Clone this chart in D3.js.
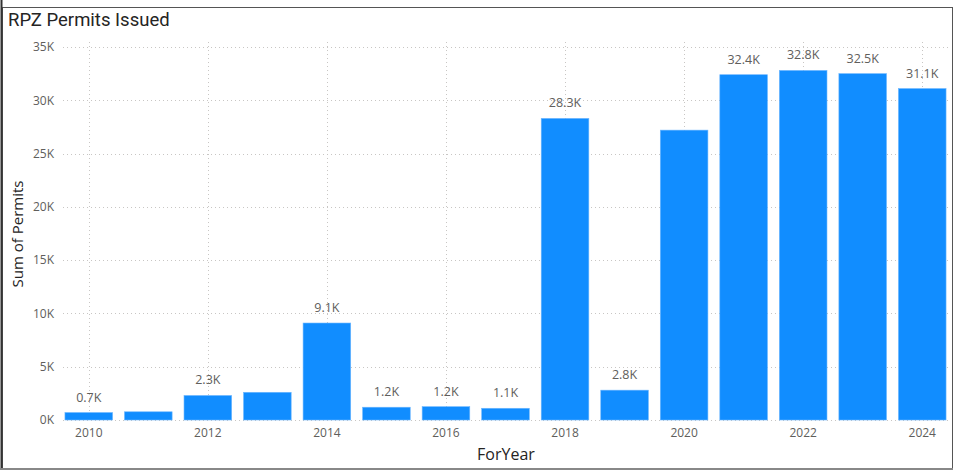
<!DOCTYPE html>
<html>
<head>
<meta charset="utf-8">
<script src="https://cdn.jsdelivr.net/npm/d3@7"></script>
<style>
  html, body { margin: 0; padding: 0; background: #fff; }
  svg { display: block; }
</style>
</head>
<body>
<svg id="chart" width="957" height="472"></svg>
<script>
const years = [2010, 2011, 2012, 2013, 2014, 2015, 2016, 2017, 2018, 2019, 2020, 2021, 2022, 2023, 2024];
const permits = [700, 770, 2300, 2600, 9100, 1200, 1250, 1100, 28300, 2800, 27200, 32400, 32800, 32500, 31100];
const dataLabels = ["0.7K", null, "2.3K", null, "9.1K", "1.2K", "1.2K", "1.1K", "28.3K", "2.8K", null, "32.4K", "32.8K", "32.5K", "31.1K"];
const yTicks = [0, 5000, 10000, 15000, 20000, 25000, 30000, 35000];
const xTickYears = [2010, 2012, 2014, 2016, 2018, 2020, 2022, 2024];

const svg = d3.select("#chart");
const font = "'Open Sans', 'Noto Sans', sans-serif";

// frame
svg.append("rect").attr("x", 2.5).attr("y", 7.5).attr("width", 950).attr("height", 461)
  .attr("fill", "none").attr("stroke", "#555").attr("stroke-width", 1);
svg.append("line").attr("x1", 1.5).attr("x2", 1.5).attr("y1", 0).attr("y2", 470)
  .attr("stroke", "#333").attr("stroke-width", 2);
svg.append("line").attr("x1", 0).attr("x2", 953).attr("y1", 469).attr("y2", 469)
  .attr("stroke", "#888").attr("stroke-width", 2);

const x = d3.scaleBand().domain(years).range([59, 952]).paddingInner(0.2).paddingOuter(0.1);
const y = d3.scaleLinear().domain([0, 35000]).range([420, 47]);

// horizontal gridlines
svg.append("g").selectAll("line").data(yTicks).join("line")
  .attr("x1", 63).attr("x2", 951)
  .attr("y1", d => Math.round(y(d)) + 0.5).attr("y2", d => Math.round(y(d)) + 0.5)
  .attr("stroke", "#c8c6c4").attr("stroke-width", 1).attr("stroke-dasharray", "1,3");

// vertical gridlines
svg.append("g").selectAll("line").data(xTickYears).join("line")
  .attr("x1", d => Math.round(x(d) + x.bandwidth() / 2) + 0.5)
  .attr("x2", d => Math.round(x(d) + x.bandwidth() / 2) + 0.5)
  .attr("y1", 42).attr("y2", 420)
  .attr("stroke", "#c8c6c4").attr("stroke-width", 1).attr("stroke-dasharray", "1,3");

// y axis
const yAxis = d3.axisLeft(y).tickValues(yTicks).tickSize(0).tickPadding(0)
  .tickFormat(d => (d / 1000) + "K");
const gy = svg.append("g").attr("transform", "translate(54,0)").call(yAxis);
gy.select(".domain").remove();
gy.selectAll("text").attr("fill", "#605e5c").attr("font-family", font).attr("font-size", 12);

// x axis
const xAxis = d3.axisBottom(x).tickValues(xTickYears).tickSize(0).tickPadding(0);
const gx = svg.append("g").attr("transform", "translate(0,428)").call(xAxis);
gx.select(".domain").remove();
gx.selectAll("text").attr("fill", "#605e5c").attr("font-family", font).attr("font-size", 12);

// bars
svg.append("g").selectAll("rect").data(years).join("rect")
  .attr("x", (d, i) => x(d))
  .attr("y", (d, i) => y(permits[i]))
  .attr("width", x.bandwidth())
  .attr("height", (d, i) => y(0) - y(permits[i]))
  .attr("fill", "#118dff")
  .attr("stroke", "#6cb6ff").attr("stroke-width", 0.6);

// data labels
svg.append("g").selectAll("text").data(years.map((d, i) => ({ year: d, v: permits[i], label: dataLabels[i] })).filter(d => d.label))
  .join("text")
  .attr("x", d => x(d.year) + x.bandwidth() / 2)
  .attr("y", d => y(d.v) - 11)
  .attr("text-anchor", "middle")
  .attr("fill", "#605e5c").attr("font-family", font).attr("font-size", 12.5)
  .text(d => d.label);

// title
svg.append("text").attr("x", 8).attr("y", 26)
  .attr("font-family", "'Roboto', 'DejaVu Sans', sans-serif").attr("font-size", 18.5)
  .attr("fill", "#252423").text("RPZ Permits Issued");

// axis titles
svg.append("text").attr("x", 506).attr("y", 460).attr("text-anchor", "middle")
  .attr("font-family", font).attr("font-size", 16).attr("fill", "#252423").text("ForYear");
svg.append("text").attr("transform", "translate(23,234) rotate(-90)").attr("text-anchor", "middle")
  .attr("font-family", font).attr("font-size", 15).attr("fill", "#252423").text("Sum of Permits");
</script>
</body>
</html>
